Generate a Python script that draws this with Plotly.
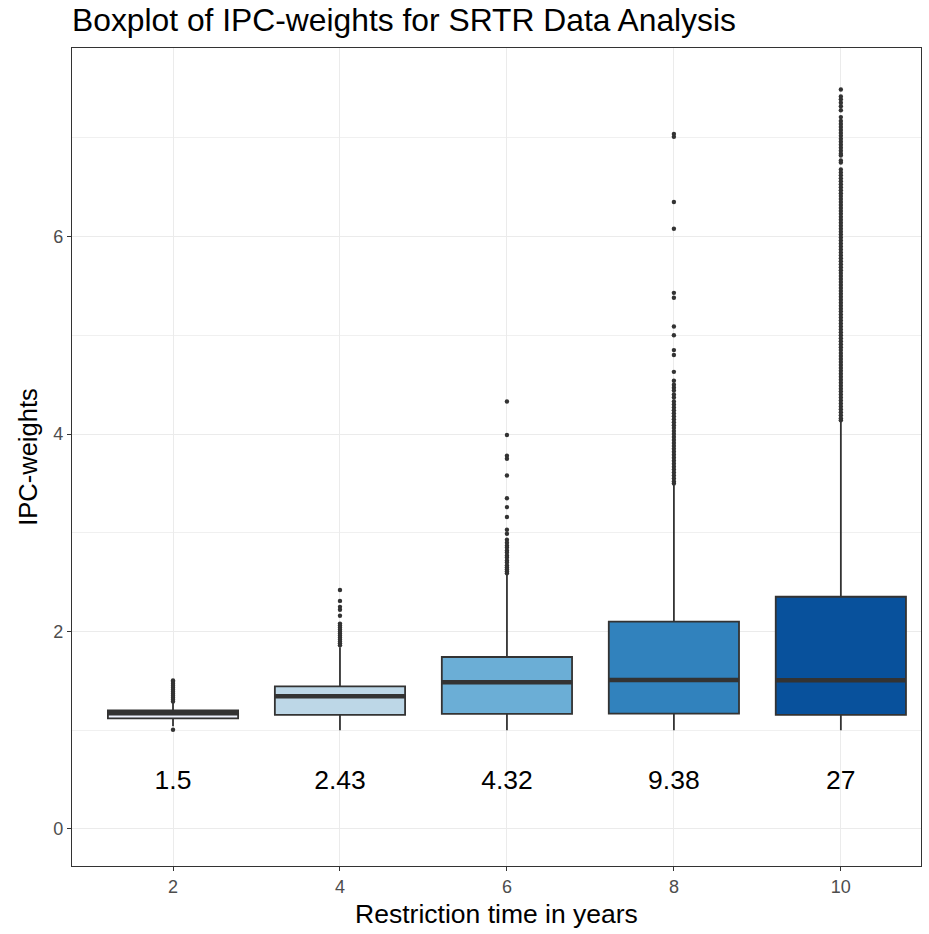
import plotly.graph_objects as go

# ---- data ----
positions = [2, 4, 6, 8, 10]
restriction_labels = ["1.5", "2.43", "4.32", "9.38", "27"]
fill_colors = ["#eff3ff", "#bdd7e7", "#6baed6", "#3182bd", "#08519c"]

q1 = [1.12, 1.155, 1.165, 1.168, 1.155]
median = [1.172, 1.345, 1.487, 1.51, 1.507]
q3 = [1.20, 1.445, 1.742, 2.10, 2.352]
lowerfence = [1.04, 1.0, 1.0, 1.0, 1.0]
upperfence = [1.28, 1.84, 2.58, 3.49, 4.13]

out_2 = [1.005, 1.29, 1.31, 1.33, 1.35, 1.37, 1.39, 1.41, 1.43, 1.45, 1.47, 1.49, 1.505]
out_4 = [2.42, 2.31, 2.25, 2.22, 2.16, 2.08, 2.06, 2.04, 2.02, 2.0, 1.98, 1.96,
         1.94, 1.92, 1.90, 1.88, 1.86]
out_6 = [4.33, 3.99, 3.78, 3.75, 3.58, 3.35, 3.26, 3.16, 3.03, 2.99, 2.93, 2.90,
         2.87, 2.85, 2.82, 2.80, 2.77, 2.75, 2.72, 2.70, 2.67, 2.65, 2.63, 2.61, 2.59]
out_8 = [7.04, 7.01, 6.35, 6.08, 5.43, 5.38, 5.09, 5.0, 4.85, 4.80, 4.63,
         4.54, 4.50, 4.47, 4.44, 4.40, 4.37, 4.33, 4.30, 4.27, 4.24, 4.21, 4.18,
         4.15, 4.12, 4.09, 4.06, 4.03, 4.0, 3.97, 3.94, 3.91, 3.88, 3.85, 3.82,
         3.79, 3.76, 3.73, 3.70, 3.67, 3.64, 3.61, 3.58, 3.55, 3.52, 3.50]
out_10 = [7.49, 7.42, 7.39, 7.355, 7.32, 7.28, 7.21,
          7.17, 7.14, 7.11, 7.08, 7.05, 7.02, 6.99, 6.96, 6.93, 6.90, 6.87, 6.84,
          6.82, 6.77, 6.75, 6.68, 6.65, 6.62, 6.59, 6.56, 6.53, 6.50, 6.47, 6.44,
          6.41, 6.38, 6.35, 6.32, 6.29, 6.26, 6.23, 6.20, 6.17, 6.14, 6.11, 6.08,
          6.05, 6.02, 5.99, 5.96, 5.93, 5.90, 5.87, 5.84, 5.81, 5.78, 5.75, 5.72,
          5.69, 5.66, 5.63, 5.60, 5.57, 5.54, 5.51, 5.48, 5.45, 5.42, 5.39, 5.36,
          5.33, 5.30, 5.27, 5.24, 5.21, 5.18, 5.15, 5.12, 5.09, 5.06, 5.03, 5.00,
          4.97, 4.94, 4.91, 4.88, 4.85, 4.82, 4.79, 4.76, 4.73, 4.70, 4.67, 4.64,
          4.61, 4.58, 4.55, 4.52, 4.49, 4.46, 4.43, 4.40, 4.37, 4.34, 4.31, 4.28,
          4.25, 4.22, 4.19, 4.16, 4.14]
outliers = [out_2, out_4, out_6, out_8, out_10]

label_y = 0.47
box_width = 1.56

FONT = "Liberation Sans, Arial, sans-serif"
DARK = "#333333"

fig = go.Figure()

for i, p in enumerate(positions):
    fig.add_trace(go.Box(
        x=[p], q1=[q1[i]], median=[median[i]], q3=[q3[i]],
        lowerfence=[lowerfence[i]], upperfence=[upperfence[i]],
        width=box_width, fillcolor=fill_colors[i],
        line=dict(color=DARK, width=1.8), boxpoints=False,
        whiskerwidth=0, showlegend=False, hoverinfo="skip",
    ))
    # thick median line (ggplot style)
    fig.add_trace(go.Scatter(
        x=[p - box_width / 2, p + box_width / 2], y=[median[i], median[i]],
        mode="lines", line=dict(color=DARK, width=4.5),
        showlegend=False, hoverinfo="skip",
    ))
    # outliers
    fig.add_trace(go.Scatter(
        x=[p] * len(outliers[i]), y=outliers[i], mode="markers",
        marker=dict(color=DARK, size=4.4, line=dict(width=0)),
        showlegend=False, hoverinfo="skip",
    ))

fig.add_trace(go.Scatter(
    x=positions, y=[label_y] * len(positions), text=restriction_labels,
    mode="text", textfont=dict(family=FONT, size=26.5, color="black"),
    showlegend=False, hoverinfo="skip",
))

fig.update_layout(
    width=929, height=934,
    margin=dict(l=72, r=8, t=48, b=68),
    paper_bgcolor="white", plot_bgcolor="white",
    font=dict(family=FONT),
    title=dict(
        text="Boxplot of IPC-weights for SRTR Data Analysis",
        x=72 / 929, xanchor="left", xref="container",
        y=1 - 9 / 934, yanchor="top", yref="container",
        font=dict(family=FONT, size=31.8, color="black"),
    ),
)

fig.update_xaxes(
    range=[0.79, 10.96], tickvals=positions, ticktext=[str(v) for v in positions],
    showgrid=True, gridcolor="#ebebeb", gridwidth=1.3, zeroline=False,
    showline=True, mirror=True, linecolor=DARK, linewidth=1.3,
    ticks="outside", ticklen=4, tickcolor=DARK, tickwidth=1.2,
    tickfont=dict(family=FONT, size=18, color="#4d4d4d"),
    title=dict(text="Restriction time in years", standoff=8,
               font=dict(family=FONT, size=26.5, color="black")),
)
fig.update_yaxes(
    range=[-0.375, 7.91], tickvals=[0, 2, 4, 6],
    showgrid=True, gridcolor="#ebebeb", gridwidth=1.3, zeroline=False,
    minor=dict(tickvals=[1, 3, 5, 7], showgrid=True, gridcolor="#f0f0f0", gridwidth=0.9, ticks=""),
    showline=True, mirror=True, linecolor=DARK, linewidth=1.3,
    ticks="outside", ticklen=4, tickcolor=DARK, tickwidth=1.2,
    tickfont=dict(family=FONT, size=18, color="#4d4d4d"),
    title=dict(text="IPC-weights", standoff=8,
               font=dict(family=FONT, size=25.5, color="black")),
)

fig.write_html("out.html")
